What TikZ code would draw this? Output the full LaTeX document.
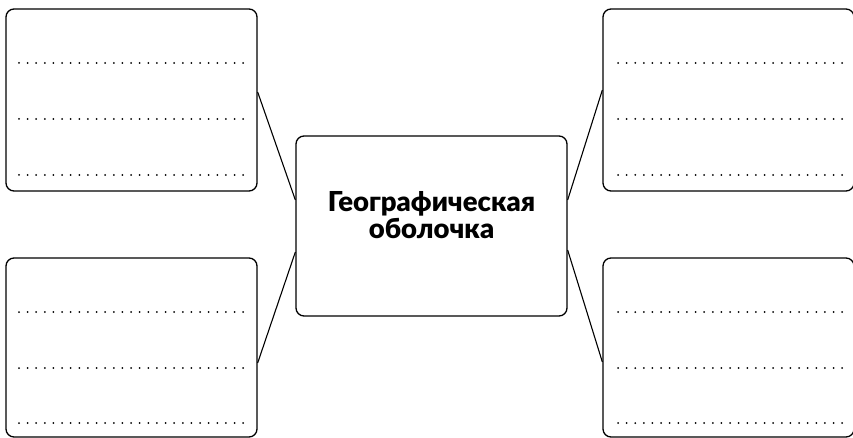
\documentclass[tikz,border=0pt]{standalone}
\usepackage{fontspec}
\setmainfont{Lato}[BoldFont={Lato Black}]
\usetikzlibrary{calc}
\begin{document}
\begin{tikzpicture}[x=1pt,y=-1pt,
  box/.style={draw=black,line width=1.3pt,rounded corners=8pt,inner sep=0pt},
  sidebox/.style={box,minimum width=251pt,minimum height=182pt},
  link/.style={draw=black,line width=1.1pt},
  dotline/.style={line width=2pt,line cap=round,dash pattern=on 0pt off 8.62pt}]
\useasboundingbox (0,0) rectangle (853,438);
\node[sidebox] (tl) at (131.5,100) {};
\node[sidebox] (tr) at (728.5,100) {};
\node[sidebox,minimum height=179pt] (bl) at (131.5,347.5) {};
\node[sidebox,minimum height=179pt] (br) at (728.5,347.5) {};
\node[box,minimum width=271pt,minimum height=180pt] (c) at (431.5,226) {};
\node[align=center,inner sep=0pt,
  font=\fontsize{27.5}{26.5}\selectfont\bfseries] (ct) at (431.5,215)
  {Географическая\\оболочка};
% connectors
\draw[link] ([yshift=8pt]tl.east) -- ([yshift=26pt]c.west);
\draw[link] ([yshift=-15.5pt]bl.east) -- ([yshift=-26pt]c.west);
\draw[link] ([yshift=10pt]tr.west) -- ([yshift=26pt]c.east);
\draw[link] ([yshift=-14.5pt]br.west) -- ([yshift=-24pt]c.east);
% dotted writing lines
\foreach \y in {63,119,175,312,368,423}{
  \draw[dotline] (19,\y) -- (243.2,\y);
  \draw[dotline] (618,\y) -- (842.2,\y);
}
\end{tikzpicture}
\end{document}
